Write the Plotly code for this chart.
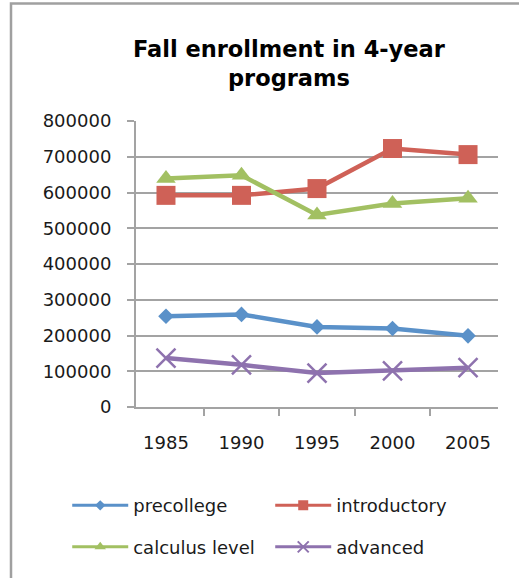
import plotly.graph_objects as go

# Fall enrollment in 4-year programs, by course level
years = ["1985", "1990", "1995", "2000", "2005"]
precollege = [254000, 259000, 224000, 219500, 199000]
introductory = [592000, 592000, 611000, 723000, 706000]
calculus_level = [639000, 648000, 537000, 569000, 584000]
advanced = [137000, 118000, 95000, 101000, 110000]

y_ticks = [0, 100000, 200000, 300000, 400000, 500000, 600000, 700000, 800000]

FONT = "DejaVu Sans"
GRID = "#a3a3a3"

# name, values, colour, plot marker, legend marker size, legend group
series = [
    ("precollege", precollege, "#5a91c9", "diamond", 12, 8, "legend"),
    ("introductory", introductory, "#cf6157", "square", 19, 10, "legend"),
    ("calculus level", calculus_level, "#a2c062", "triangle-up", 17, 10, "legend2"),
    ("advanced", advanced, "#8e72ae", "x-thin", 19, 11, "legend2"),
]

fig = go.Figure()
for name, vals, color, symbol, size, leg_size, leg in series:
    xline = dict(width=2.5, color=color) if symbol == "x-thin" else dict(width=0)
    fig.add_trace(go.Scatter(
        x=years, y=vals, name=name, mode="lines+markers",
        line=dict(color=color, width=4.5),
        marker=dict(color=color, symbol=symbol, size=size, line=xline),
        showlegend=False,
    ))
    # compact key entry with a smaller marker and thinner line
    fig.add_trace(go.Scatter(
        x=[None], y=[None], name=name, mode="lines+markers",
        line=dict(color=color, width=3),
        marker=dict(color=color, symbol=symbol, size=leg_size,
                    line=dict(width=2, color=color) if symbol == "x-thin" else dict(width=0)),
        legend=leg, hoverinfo="skip",
    ))

legend_common = dict(
    orientation="h", xanchor="left", yanchor="middle",
    font=dict(family=FONT, size=18, color="#1a1a1a"),
    itemwidth=56, entrywidth=132, bgcolor="rgba(0,0,0,0)",
    itemclick=False, itemdoubleclick=False,
)

fig.update_layout(
    width=519, height=578,
    margin=dict(l=136, r=21, t=121, b=171),
    paper_bgcolor="white", plot_bgcolor="white",
    font=dict(family=FONT, size=18, color="#1a1a1a"),
    showlegend=True,
    legend=dict(x=-0.19, y=-0.345, **legend_common),
    legend2=dict(x=-0.19, y=-0.49, **legend_common),
    xaxis=dict(
        type="category", tickson="boundaries",
        showline=True, linecolor=GRID, linewidth=2,
        ticks="outside", ticklen=7, tickwidth=2, tickcolor=GRID,
        showgrid=False, ticklabelstandoff=18,
        tickfont=dict(family=FONT, size=18),
    ),
    yaxis=dict(
        range=[0, 800000], tickvals=y_ticks, ticktext=[str(v) for v in y_ticks],
        showline=True, linecolor=GRID, linewidth=2,
        ticks="outside", ticklen=7, tickwidth=2, tickcolor=GRID,
        showgrid=True, gridcolor=GRID, gridwidth=2, zeroline=False,
        ticklabelstandoff=12,
        tickfont=dict(family=FONT, size=18),
    ),
    annotations=[dict(
        text="<b>Fall enrollment in 4-year<br>programs</b>",
        xref="paper", yref="paper", x=0.424, y=1.2,
        xanchor="center", yanchor="middle", showarrow=False,
        font=dict(family=FONT, size=22.5, color="#000000"),
    )],
    shapes=[dict(
        type="rect", xref="paper", yref="paper",
        x0=-0.3453, x1=1.3, y0=-0.8, y1=1.4108,
        line=dict(color="#a0a0a0", width=2.5), fillcolor="rgba(0,0,0,0)",
        layer="below",
    )],
)

fig.write_html("out.html")
